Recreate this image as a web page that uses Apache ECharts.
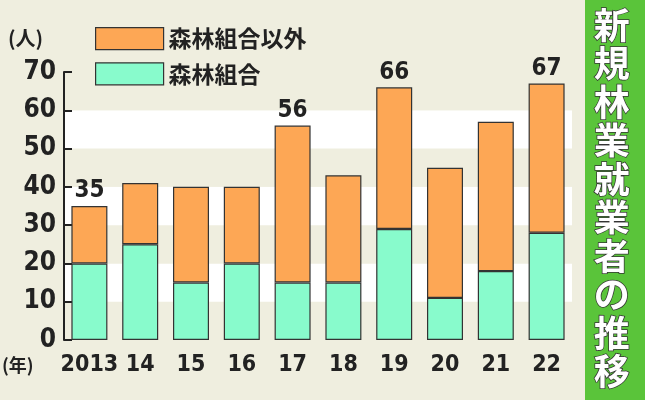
<!DOCTYPE html><html><head><meta charset="utf-8"><script src="https://cdn.jsdelivr.net/npm/echarts@6/dist/echarts.min.js"></script>
<style>body{margin:0;background:#efeedf}#c{width:645px;height:400px}</style></head><body><div id="c"></div><script>
const categories=['2013','14','15','16','17','18','19','20','21','22'];
const kumiai=[20,25,15,20,15,15,29,11,18,28];
const totals=[35,41,40,40,56,43,66,45,57,67];
const labeled=[35,null,null,null,56,null,66,null,null,67];
const yTicks=[0,10,20,30,40,50,60,70];
const other=totals.map((t,i)=>t-kumiai[i]);
const F='"Liberation Sans Narrow","DejaVu Sans Condensed","Roboto",sans-serif';
const c=echarts.init(document.getElementById('c'));
c.setOption({backgroundColor:'#efeedf',animation:false,
legend:{orient:'vertical',left:90,top:22,icon:'rect',itemWidth:68,itemHeight:22,itemGap:12,data:['森林組合以外','森林組合'],
 textStyle:{fontFamily:'"Noto Sans CJK JP"',fontSize:23,fontWeight:'bold',color:'#222'},itemStyle:{borderColor:'#333',borderWidth:1.2}},
grid:{left:64,right:73,top:72,bottom:60},
xAxis:{type:'category',data:categories,axisTick:{show:false},axisLine:{show:false},
 axisLabel:{interval:0,fontFamily:F,fontWeight:'bold',fontSize:23,color:'#222',margin:14}},
yAxis:{type:'value',min:0,max:70,interval:10,axisLine:{show:true,lineStyle:{color:'#222',width:2}},axisTick:{show:true,inside:true,length:8,lineStyle:{color:'#222',width:2}},
 splitLine:{show:false},splitArea:{show:true,areaStyle:{color:['#efeedf','#ffffff']}},
 axisLabel:{fontFamily:F,fontWeight:'bold',fontSize:26,color:'#222',margin:8,formatter:v=>yTicks.includes(v)?String(v):''}},
series:[
{name:'森林組合',type:'bar',stack:'a',barWidth:36,data:kumiai,itemStyle:{color:'#88fbcc',borderColor:'#333',borderWidth:1.2}},
{name:'森林組合以外',type:'bar',stack:'a',data:other.map((v,i)=>({value:v,label:{show:labeled[i]!=null,formatter:String(labeled[i])}})),
 itemStyle:{color:'#fda755',borderColor:'#333',borderWidth:1.2},
 label:{position:'top',fontFamily:F,fontWeight:'bold',fontSize:24,color:'#222',distance:3}}
],
graphic:[{type:'rect',shape:{x:585,y:0,width:60,height:400},style:{fill:'#5ac43a'}},
{type:'text',left:2,top:356,style:{text:'(年)',font:'bold 18px "Noto Sans CJK JP"',fill:'#222'}},
{type:'text',left:8,top:28,style:{text:'(人)',font:'bold 20px "Noto Sans CJK JP"',fill:'#222'}},
{type:'text',left:593,top:6,style:{text:'新\n規\n林\n業\n就\n業\n者\nの\n推\n移',font:'bold 36px "Noto Sans CJK JP"',lineHeight:38.5,fill:'#fff',stroke:'#333',lineWidth:1.5}}]
});
</script></body></html>
